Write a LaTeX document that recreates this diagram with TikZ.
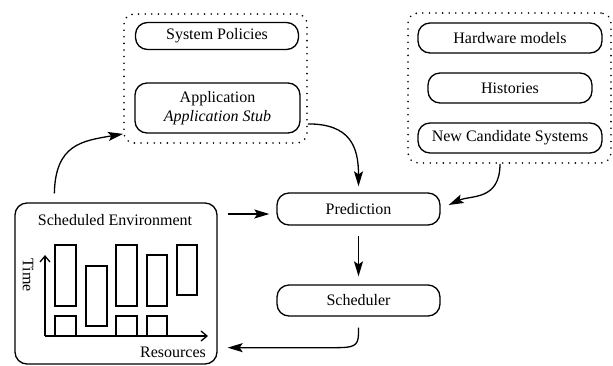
\documentclass[tikz,border=0pt]{standalone}
\usepackage{fontspec}
\setmainfont{Liberation Serif}
\usetikzlibrary{arrows.meta,calc}
\begin{document}
\begin{tikzpicture}[x=1pt,y=-1pt,
  font=\fontsize{16}{19}\selectfont,
  pill/.style={draw, line width=1.3pt, rounded corners=12pt, inner sep=0pt, align=center},
  group/.style={draw, line width=1.8pt, dash pattern=on 0pt off 6.6pt, line cap=round, rounded corners=10pt, inner sep=0pt},
  flow/.style={line width=1.3pt, -{Stealth[length=15pt,width=9pt,inset=3pt]}},
  bar/.style={draw, line width=1.3pt},
  axis/.style={line width=1.3pt, -{Straight Barb[length=6pt,width=10pt]}}
]
\useasboundingbox (0,0) rectangle (613,365);

% dotted groups
\node[group, minimum width=183pt, minimum height=129pt] (grpL) at (215.5,78.5) {};
\node[group, minimum width=203pt, minimum height=150pt] (grpR) at (509.5,88) {};

% inputs
\node[pill, minimum width=163pt, minimum height=27pt] (pol) at (217,36) {System Policies};
\node[pill, minimum width=165pt, minimum height=50pt] (app) at (217.5,108) {Application\\\textit{Application Stub}};
\node[pill, minimum width=184pt, minimum height=30pt] (hw) at (510,38) {Hardware models};
\node[pill, minimum width=164pt, minimum height=30pt] (hist) at (510,88) {Histories};
\node[pill, minimum width=184pt, minimum height=30pt] (ncs) at (510,138) {New Candidate Systems};

% core
\node[pill, minimum width=163pt, minimum height=32pt] (pred) at (358.5,209) {Prediction};
\node[pill, minimum width=163pt, minimum height=31pt] (sch) at (358.5,300.5) {Scheduler};

% scheduled environment
\node[draw, line width=1.3pt, rounded corners=12pt, inner sep=0pt,
      minimum width=202pt, minimum height=161pt] (env) at (116,283.5) {};
\node (envt) at (115,220) {Scheduled Environment};

% resource chart inside the environment
\draw[axis] (45,336) -- (45,255);
\draw[axis] (45,336) -- (208,336);
\draw[bar] (55,245) rectangle (76,306);
\draw[bar] (55,316) rectangle (76,336);
\draw[bar] (86,266) rectangle (107,326);
\draw[bar] (116,245) rectangle (137,306);
\draw[bar] (116,316) rectangle (137,336);
\draw[bar] (147,255) rectangle (167,306);
\draw[bar] (147,316) rectangle (167,336);
\draw[bar] (177,245) rectangle (197,295);
\node[rotate=-90] (tlab) at (28,275) {Time};
\node (rlab) at (173,352) {Resources};

% connectors
\coordinate (envTop) at ([xshift=40pt,yshift=9pt]env.north west);
\coordinate (grpLin) at ([yshift=10pt]grpL.south west);
\draw[flow] (envTop) .. controls +(1,-49) and +(-41,7) .. (grpLin);

\coordinate (appOut) at ([yshift=20pt]grpL.south east);
\draw[flow] (appOut) .. controls +(42,0) and +(0,-40) .. ([yshift=6pt]pred.north);

\coordinate (grpRout) at ([xshift=-9.5pt]grpR.south);
\draw[flow] (grpRout) .. controls +(0,37) and +(22,-10) .. ([xshift=8pt,yshift=4pt]pred.east);

\draw[flow] ($(pred.west -| env.east)+(10,5)$) -- ($(pred.west)+(-7,5)$);

\draw[flow, shorten <=10pt, shorten >=8pt] (pred) -- (sch);

\coordinate (envIn) at ([xshift=10pt,yshift=17pt]env.south east);
\draw[flow] ([yshift=-11pt]sch.south) -- ++(0,6) .. controls +(0,13) and +(17,0) .. ++(-23,14) -- (envIn);
\end{tikzpicture}
\end{document}
